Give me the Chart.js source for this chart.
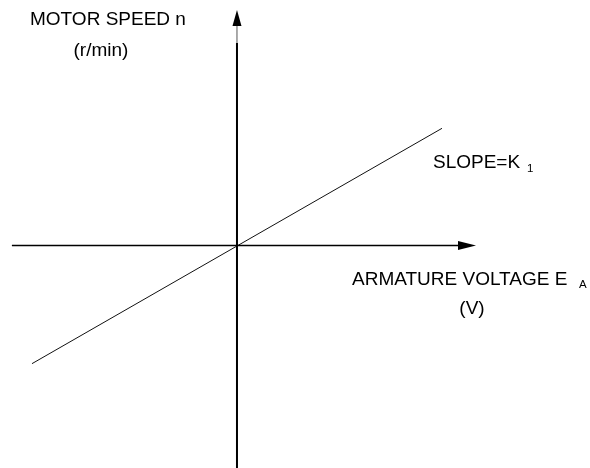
<!DOCTYPE html>
<html lang="en">
  <head>
    <meta charset="UTF-8" />
    <title>Motor speed vs armature voltage</title>
    <style>
      * {
        margin: 0;
        padding: 0;
        box-sizing: border-box;
      }
      body {
        background: white;
      }
      .chartBox {
        width: 590px;
        height: 468px;
      }
    </style>
  </head>
  <body>
    <div class="chartBox">
      <canvas id="myChart" width="590" height="468"></canvas>
    </div>

    <script src="https://cdn.jsdelivr.net/npm/chart.js"></script>
    <script>
      // armature voltage (x) and motor speed (y), straight line through origin
      const voltage = [-10, 10];
      const speed = [-5.76, 5.72];

      const yTitle = ["MOTOR SPEED n", "(r/min)"];
      const xTitle = ["ARMATURE VOLTAGE E", "A", "(V)"];
      const slopeText = ["SLOPE=K", "1"];

      const font = "Liberation Sans, Arial, Helvetica, sans-serif";

      // axes with arrow heads, and the labels, drawn around the origin
      const axesArrows = {
        id: "axesArrows",
        afterDatasetsDraw(chart) {
          const {
            ctx,
            scales: { x, y },
          } = chart;
          const ox = x.getPixelForValue(0);
          const oy = y.getPixelForValue(0);
          ctx.save();
          ctx.strokeStyle = "black";
          ctx.fillStyle = "black";

          // horizontal axis
          const xEnd = x.getPixelForValue(11.66);
          ctx.lineWidth = 1.5;
          ctx.beginPath();
          ctx.moveTo(x.getPixelForValue(-10.98), oy);
          ctx.lineTo(xEnd - 14, oy);
          ctx.stroke();
          ctx.beginPath();
          ctx.moveTo(xEnd, oy);
          ctx.lineTo(xEnd - 18, oy - 4.5);
          ctx.lineTo(xEnd - 18, oy + 4.5);
          ctx.closePath();
          ctx.fill();

          // vertical axis
          const yTop = y.getPixelForValue(11.49);
          ctx.lineWidth = 1;
          ctx.strokeStyle = "#555";
          ctx.beginPath();
          ctx.moveTo(ox, yTop + 14);
          ctx.lineTo(ox, yTop + 33);
          ctx.stroke();
          ctx.strokeStyle = "black";
          ctx.lineWidth = 2;
          ctx.beginPath();
          ctx.moveTo(ox, yTop + 33);
          ctx.lineTo(ox, chart.height);
          ctx.stroke();
          ctx.beginPath();
          ctx.moveTo(ox, yTop);
          ctx.lineTo(ox - 4.5, yTop + 16);
          ctx.lineTo(ox + 4.5, yTop + 16);
          ctx.closePath();
          ctx.fill();

          // labels
          ctx.textBaseline = "alphabetic";
          ctx.font = "19px " + font;
          ctx.textAlign = "left";
          ctx.fillText(yTitle[0], ox - 207, oy - 220.5);
          ctx.textAlign = "center";
          ctx.fillText(yTitle[1], ox - 136, oy - 189.5);

          ctx.textAlign = "left";
          ctx.fillText(slopeText[0], ox + 196, oy - 77.5);
          ctx.fillText(xTitle[0], ox + 115, oy + 39.5);
          ctx.textAlign = "center";
          ctx.fillText(xTitle[2], ox + 235, oy + 68);

          ctx.textAlign = "left";
          ctx.font = "11.5px " + font;
          ctx.fillText(slopeText[1], ox + 290, oy - 73.5);
          ctx.fillText(xTitle[1], ox + 342, oy + 42.5);
          ctx.restore();
        },
      };

      const ctx = document.getElementById("myChart");

      const data = {
        datasets: [
          {
            label: "n = K1 EA",
            data: voltage.map((v, i) => ({ x: v, y: speed[i] })),
            showLine: true,
            borderColor: "#111",
            borderWidth: 1,
            pointRadius: 0,
            fill: false,
          },
        ],
      };

      const config = {
        type: "scatter",
        data: data,
        options: {
          responsive: false,
          animation: false,
          layout: { padding: 0 },
          plugins: {
            legend: { display: false },
            tooltip: { enabled: false },
          },
          scales: {
            x: { display: false, min: -11.56, max: 17.22 },
            y: { display: false, min: -10.85, max: 11.98 },
          },
        },
        plugins: [axesArrows],
      };

      const myChart = new Chart(ctx, config);
    </script>
  </body>
</html>
